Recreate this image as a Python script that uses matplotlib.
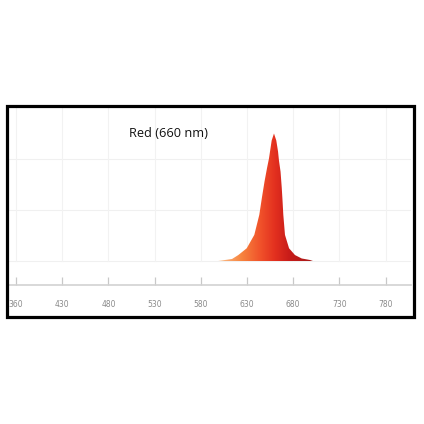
import matplotlib
matplotlib.use("Agg")
import matplotlib.pyplot as plt
import numpy as np
from matplotlib.colors import LinearSegmentedColormap
from matplotlib.patches import Rectangle

# spectrum (nm, relative intensity)
wavelength = [598.6, 606.2, 613.8, 620.6, 629.7, 637.9, 643.3, 646.2, 649.0, 651.7,
              653.8, 656.7, 659.2, 661.7, 663.6, 664.6, 666.3, 667.6, 668.4, 669.3,
              671.1, 675.5, 681.9, 689.2, 698.2, 701.4]
intensity = [0.0, 0.008, 0.016, 0.047, 0.100, 0.205, 0.362, 0.500, 0.625, 0.730,
             0.805, 0.945, 1.0, 0.945, 0.858, 0.787, 0.701, 0.575, 0.480, 0.362,
             0.205, 0.100, 0.047, 0.020, 0.008, 0.0]

tick_pos = [380, 430, 480, 530, 580, 630, 680, 730, 780]
tick_labels = ["360", "430", "480", "530", "580", "630", "680", "730", "780"]
grid_y = [0, 0.4, 0.8]
label = "Red (660 nm)"

W, H = 424, 424
fig = plt.figure(figsize=(W / 100, H / 100), dpi=100)

# outer black frame
fig.patches.append(Rectangle((6.5 / W, 1 - 316.5 / H), 407 / W, 211 / H,
                             transform=fig.transFigure, fill=False,
                             edgecolor="black", linewidth=2.3))

ax = fig.add_axes([9 / W, 139 / H, 402 / W, 177 / H])
for s in ["top", "left", "right"]:
    ax.spines[s].set_visible(False)
ax.spines["bottom"].set_color("#d2d2d2")
ax.spines["bottom"].set_linewidth(1.2)

for gy in grid_y:
    ax.axhline(gy, color="#f0f0f0", lw=0.8, zorder=0)
for tx in tick_pos:
    ax.plot([tx, tx], [0, 1.2], color="#f2f2f2", lw=0.8, zorder=0)

ax.set_yticks([])
ax.set_xticks(tick_pos)
ax.set_xticklabels(tick_labels)
ax.tick_params(axis="x", direction="in", length=6, width=0.9, color="#c8c8c8",
               labelsize=5.5, labelcolor="#8a8a8a", pad=11)

# gradient filled peak
cmap = LinearSegmentedColormap.from_list(
    "redled", [(0.0, "#fcc08c"), (0.25, "#f7833d"), (0.45, "#f0512a"),
               (0.6, "#e3301f"), (0.75, "#c81c19"), (1.0, "#a51a1a")])
poly = ax.fill_between(wavelength, intensity, 0, color="none", lw=0)
grad = np.linspace(0, 1, 256).reshape(1, -1)
img = ax.imshow(grad, cmap=cmap, aspect="auto",
                extent=[wavelength[0], wavelength[-1], 0, 1.0], zorder=2)
img.set_clip_path(poly.get_paths()[0], transform=ax.transData)
ax.set_xlim(372.4, 807.5)
ax.set_ylim(-0.188, 1.2)

ax.text(502, 1.0, label, ha="left", va="center", fontsize=9.2,
        family="Open Sans", color="#111111")

fig.savefig("out.png", dpi=100)
